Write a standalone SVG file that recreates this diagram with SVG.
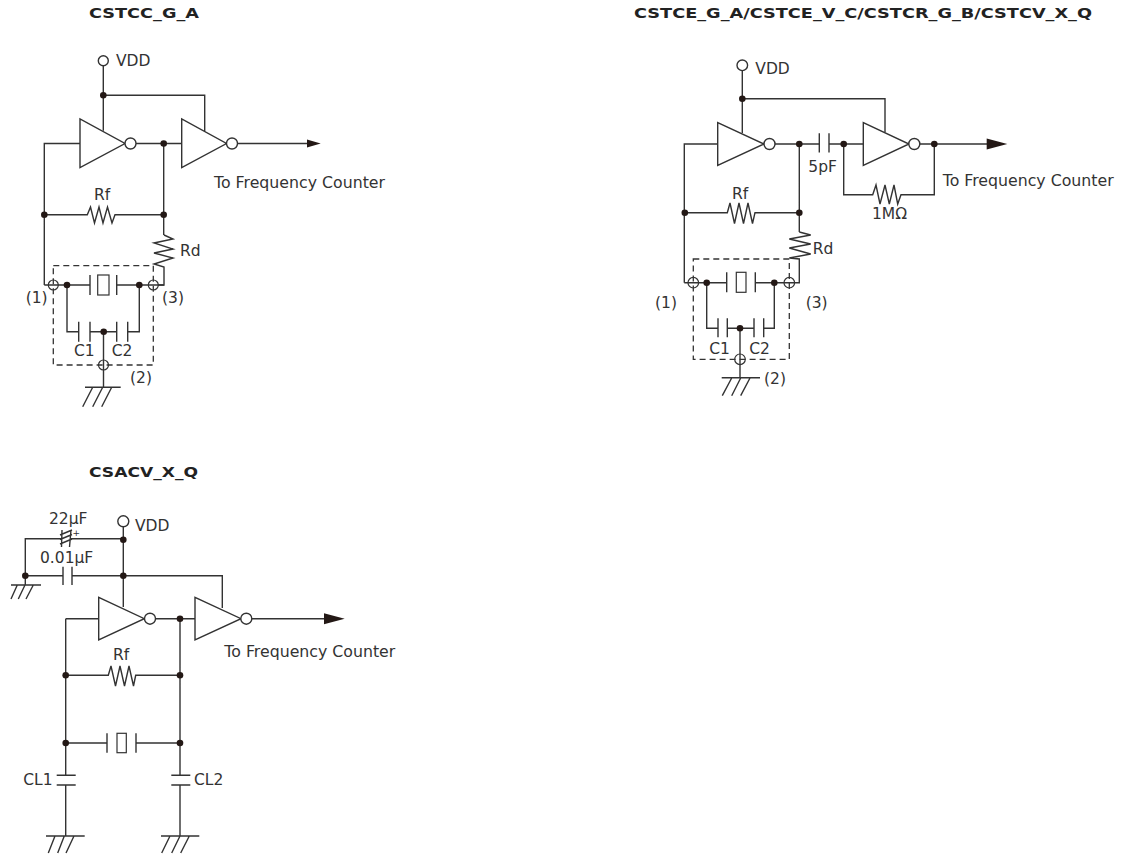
<svg xmlns="http://www.w3.org/2000/svg" width="1124" height="855" viewBox="0 0 1124 855">
<style>
.w{fill:none;stroke:#333;stroke-width:1.4}
.s{fill:#fff;stroke:#333;stroke-width:1.4}
.o{fill:none;stroke:#333;stroke-width:1.2}
.d{fill:none;stroke:#333;stroke-width:1.3;stroke-dasharray:6 4}
.j{fill:#231815}
.a{fill:#231815}
text{font-family:"DejaVu Sans","Liberation Sans",sans-serif;font-size:15.5px;fill:#333}
.t{font-weight:700;font-size:14.6px;fill:#222}
</style>
<rect width="1124" height="855" fill="#fff"/>
<g id="titles">
<text class="t" x="89" y="18" textLength="110" lengthAdjust="spacingAndGlyphs">CSTCC_G_A</text>
<text class="t" x="634" y="18" textLength="458" lengthAdjust="spacingAndGlyphs">CSTCE_G_A/CSTCE_V_C/CSTCR_G_B/CSTCV_X_Q</text>
<text class="t" x="89" y="477" textLength="109" lengthAdjust="spacingAndGlyphs">CSACV_X_Q</text>
</g>
<g id="connectors">
<!-- circuit 1 -->
<path class="w" d="M103.3 66V130.7M103.3 95.3H204.7V131M44.3 285V143.5H80M136 143.5H182M163.7 143.5V235M44.3 214.7H87.3L90.5 207L94.5 223L99 207L103 223L107.5 207L112 223L115 214.7H163.7"/>
<path class="w" d="M164 235L173 239L154 243L173 249L154 253L173 258L154 264L164 267V285H158M237.5 143.5H307"/>
<path class="w" d="M44.3 285H90M116.7 285H164M67 285V331.7H78.7M90 331.7H116.7M127.7 331.7H139.3V285M103.5 331.7V387.3M85 387.3H120.7M92.7 387.3L82.7 406.7M102.7 387.3L92.7 406.7M111.7 387.3L101.7 406.7"/>
<path class="w" d="M90 275V295M116.7 275V295M78.7 321.7V341.7M90 321.7V341.7M116.7 321.7V341.7M127.7 321.7V341.7"/>
<path class="a" d="M307 139.6L320.7 143.5L307 147.4Z"/>
<!-- circuit 2 -->
<path class="w" d="M742.3 71V133M742.3 98.7H885V132.3M684.3 282.7V144H717.7M775 144H819.3M829 144H863.3M799.3 144V232M843.7 144V194.7H872.7L876 185L880 204L885 185L889.3 204L894 185L897.7 204L901 194.7H934.3V144M919.8 144H987M684.3 212.7H727.3L730 203L734.5 223.5L739 203L743.5 223.5L748 203L752.5 223.5L755 212.7H799.3"/>
<path class="w" d="M799.3 232L810.7 235L789.3 239L810.7 244L789.3 248L810.7 254L789.3 258L799.3 259V282.7H789.3M684.3 282.7H726.7M755.3 282.7H789.3M706.7 282.7V328.3H718M727.3 328.3H754M763.7 328.3H774.3V282.7M740 328.3V377.7M721.7 377.7H760M731.7 378L722.3 395.7M740.7 378L731.7 395.7M750 378L740.7 395.7"/>
<path class="w" d="M819.3 133.3V152.5M829 133.3V152.5M726.7 272.3V292.3M755.3 272.3V292.3M718 318.3V337.3M727.3 318.3V337.3M754 318.3V337.3M763.7 318.3V337.3"/>
<path class="a" d="M986.7 138.5L1007.3 144L986.7 149.5Z"/>
<!-- circuit 3 -->
<path class="w" d="M123.3 527V597M25.3 585V538.7H62M70 538.7H123.3M25.3 575.7H63M72 575.7H222.3V608M123.3 575.7V607M11 585H41M17.3 585L11 599M25 585L18.3 599M33.3 585L26 599M65.7 618.7H98.7M155.5 618.7H195M251.8 618.7H324M65.7 618.7V775.3M180 618.7V775.3M65.7 675.3H108.3L111 666L115.5 686L120 666L124.5 686L129 666L133.5 686L135.7 675.3H180M65.7 743H107M136 743H180M65.7 785V836M180 785V836"/>
<path class="w" d="M63 566.7V585M72 566.7V585M107 733.3V752.7M136 733.3V752.7M56.7 775.3H75.7M56.7 785H75.7M171.3 775.3H190.3M171.3 785H190.3M46 836H84.7M161 836H199.3M55 836L48.3 853M64.3 836L57.7 853M74 836L66 853M170 836L161.7 853M180 836L171.7 853M189.3 836L180.7 853"/>
<path class="w" d="M62 530L61.5 547M71 530L69.5 547M60 535L72 530M60 539.5L72 534.5M60 544L72 539"/>
<path class="a" d="M324 613.2L344.7 618.7L324 624.2Z"/>
</g>
<g id="crystals">
<rect class="o" x="97.7" y="275" width="11.3" height="20"/>
<rect class="o" x="736.3" y="272.3" width="9.7" height="20"/>
<rect class="o" x="117" y="733.3" width="9.3" height="19.4"/>
</g>
<g id="inverters">
<path class="s" d="M80 119V167.5L125 143.5Z"/>
<circle class="s" cx="130.5" cy="143.5" r="5.5"/>
<path class="s" d="M181.7 119V167.5L226.5 143.5Z"/>
<circle class="s" cx="232" cy="143.5" r="5.5"/>
<path class="s" d="M717.7 122.7V165.3L764 144Z"/>
<circle class="s" cx="769.5" cy="144" r="5.5"/>
<path class="s" d="M863.3 122.7V165.3L909 144Z"/>
<circle class="s" cx="914.3" cy="144" r="5.5"/>
<path class="s" d="M98.7 597.3V640L144.3 618.7Z"/>
<circle class="s" cx="150" cy="618.7" r="5.5"/>
<path class="s" d="M195 597.3V640L241 618.7Z"/>
<circle class="s" cx="246.3" cy="618.7" r="5.5"/>
</g>
<g id="package-boxes">
<rect class="d" x="53.3" y="265.7" width="100" height="99.3"/>
<rect class="d" x="693.3" y="259" width="96" height="100.3"/>
</g>
<g id="terminals">
<circle class="s" cx="103.3" cy="60.7" r="5"/>
<circle class="s" cx="742.3" cy="65.3" r="5.3"/>
<circle class="s" cx="123.3" cy="521.3" r="5.5"/>
<g class="o"><circle cx="53.3" cy="285" r="5"/><circle cx="153.3" cy="285" r="5"/><circle cx="103.5" cy="365" r="5"/><circle cx="693.3" cy="282.7" r="5.3"/><circle cx="789.3" cy="282.7" r="5.3"/><circle cx="740" cy="359.3" r="5.3"/></g>
</g>
<g id="junctions" class="j">
<circle cx="103.3" cy="95.3" r="3.3"/><circle cx="163.7" cy="143.5" r="3.3"/><circle cx="44.3" cy="214.7" r="3.3"/><circle cx="163.7" cy="214.7" r="3.3"/><circle cx="67" cy="285" r="3.3"/><circle cx="139.3" cy="285" r="3.3"/><circle cx="103.7" cy="331.7" r="3.3"/>
<circle cx="742.3" cy="98.7" r="3.3"/><circle cx="799.3" cy="144" r="3.3"/><circle cx="843.7" cy="144" r="3.3"/><circle cx="934.3" cy="144" r="3.3"/><circle cx="684.8" cy="212.7" r="3.3"/><circle cx="799.3" cy="212.7" r="3.3"/><circle cx="706.7" cy="282.7" r="3.3"/><circle cx="774.3" cy="282.7" r="3.3"/><circle cx="740" cy="328.3" r="3.3"/>
<circle cx="123.3" cy="539.7" r="3.3"/><circle cx="25.3" cy="575.7" r="3.3"/><circle cx="123.3" cy="575.7" r="3.3"/><circle cx="180" cy="618.7" r="3.3"/><circle cx="65.7" cy="675.3" r="3.3"/><circle cx="180" cy="675.3" r="3.3"/><circle cx="65.7" cy="743" r="3.3"/><circle cx="180" cy="743" r="3.3"/>
</g>
<g id="labels">
<text x="116" y="66">VDD</text>
<text x="214" y="188" textLength="171" lengthAdjust="spacingAndGlyphs">To Frequency Counter</text>
<text x="94" y="200">Rf</text>
<text x="180" y="255.7">Rd</text>
<text x="25.7" y="303">(1)</text>
<text x="162" y="303">(3)</text>
<text x="130" y="382.7">(2)</text>
<text x="74" y="355.7">C1</text>
<text x="111.7" y="355.7">C2</text>
<text x="755.3" y="73.5">VDD</text>
<text x="808.3" y="172.3">5pF</text>
<text x="942.7" y="186" textLength="171" lengthAdjust="spacingAndGlyphs">To Frequency Counter</text>
<text x="872" y="219.3" textLength="35">1MΩ</text>
<text x="732" y="199">Rf</text>
<text x="812.7" y="254.3">Rd</text>
<text x="655" y="308.3">(1)</text>
<text x="805.7" y="308.3">(3)</text>
<text x="764" y="384.3">(2)</text>
<text x="709.3" y="354">C1</text>
<text x="749.3" y="354">C2</text>
<text x="135" y="530.7">VDD</text>
<text x="49" y="524">22µF</text>
<text x="72.5" y="536" style="font-size:9px">+</text>
<text x="40" y="562.7">0.01µF</text>
<text x="224.3" y="656.7" textLength="171" lengthAdjust="spacingAndGlyphs">To Frequency Counter</text>
<text x="113" y="660">Rf</text>
<text x="23.3" y="784.7">CL1</text>
<text x="194" y="784.7">CL2</text>
</g>
</svg>
